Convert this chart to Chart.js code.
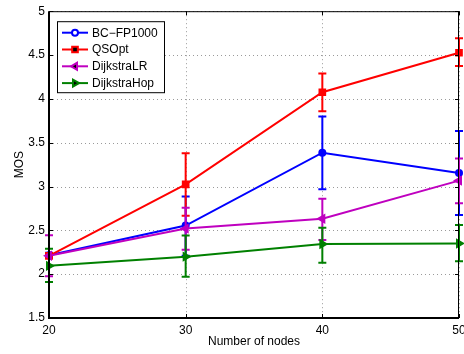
<!DOCTYPE html>
<html>
<head>
<meta charset="utf-8">
<script src="https://cdn.jsdelivr.net/npm/chart.js@4.4.1/dist/chart.umd.min.js"></script>
<style>
  html, body { margin: 0; padding: 0; background: #fff; overflow: hidden; }
  #wrap { width: 464px; height: 354px; overflow: hidden; }
</style>
</head>
<body>
<div id="wrap"><canvas id="c" width="480" height="354"></canvas></div>
<script>
const nodes = [20, 30, 40, 50];
const yTicks = [1.5, 2, 2.5, 3, 3.5, 4, 4.5, 5];
const yTickLabels = ["1.5", "2", "2.5", "3", "3.5", "4", "4.5", "5"];

const bcMos = [2.215, 2.555, 3.386, 3.153];
const bcHigh = [2.245, 2.886, 3.80, 3.634];
const bcLow = [2.185, 2.21, 2.97, 2.675];

const qsMos = [2.21, 3.025, 4.075, 4.526];
const qsHigh = [2.24, 3.38, 4.29, 4.69];
const qsLow = [2.18, 2.667, 3.86, 4.376];

const lrMos = [2.21, 2.52, 2.633, 3.067];
const lrHigh = [2.445, 2.757, 2.86, 3.32];
const lrLow = [1.975, 2.28, 2.39, 2.81];

const hopMos = [2.095, 2.20, 2.344, 2.35];
const hopHigh = [2.29, 2.44, 2.53, 2.56];
const hopLow = [1.91, 1.97, 2.13, 2.147];

const FONT = "'Liberation Sans', Arial, Helvetica, sans-serif";

function series(label, color, mos, high, low, style, rot, radius, order) {
    return {
        label: label,
        data: nodes.map((n, i) => ({ x: n, y: mos[i] })),
        errHigh: high,
        errLow: low,
        borderColor: color,
        backgroundColor: color,
        borderWidth: 2,
        pointStyle: style,
        rotation: rot,
        pointRadius: radius,
        pointBorderWidth: 2,
        pointBackgroundColor: color,
        pointBorderColor: color,
        tension: 0,
        clip: false,
        order: order
    };
}

const datasets = [
    series("BC\u2212FP1000", "#0000ff", bcMos, bcHigh, bcLow, "circle", 0, 3, 3),
    series("QSOpt", "#ff0000", qsMos, qsHigh, qsLow, "rect", 0, 4, 2),
    series("DijkstraLR", "#bf00bf", lrMos, lrHigh, lrLow, "triangle", 270, 4, 1),
    series("DijkstraHop", "#008000", hopMos, hopHigh, hopLow, "triangle", 90, 4, 0)
];

// dotted grid at the scale ticks, under the lines
const dottedGrid = {
    id: "dottedGrid",
    beforeDatasetsDraw(chart) {
        const ctx = chart.ctx;
        const a = chart.chartArea;
        const xs = chart.scales.x, ys = chart.scales.y;
        ctx.save();
        ctx.strokeStyle = "#9a9a9a";
        ctx.lineWidth = 1;
        ctx.setLineDash([1, 3]);
        ctx.beginPath();
        xs.ticks.forEach(t => {
            const px = Math.round(xs.getPixelForValue(t.value)) + 0.5;
            ctx.moveTo(px, a.top); ctx.lineTo(px, a.bottom);
        });
        ys.ticks.forEach(t => {
            const py = Math.round(ys.getPixelForValue(t.value)) + 0.5;
            ctx.moveTo(a.left, py); ctx.lineTo(a.right, py);
        });
        ctx.stroke();
        ctx.restore();
    }
};

// error bars, drawn right after each line so the stacking follows the series
const errorBars = {
    id: "errorBars",
    afterDatasetDraw(chart, args) {
        const ds = chart.data.datasets[args.index];
        const xs = chart.scales.x, ys = chart.scales.y;
        const ctx = chart.ctx;
        ctx.save();
        ctx.strokeStyle = ds.borderColor;
        ctx.lineWidth = 2;
        ds.data.forEach((p, i) => {
            const px = xs.getPixelForValue(p.x);
            const top = ys.getPixelForValue(ds.errHigh[i]);
            const bot = ys.getPixelForValue(ds.errLow[i]);
            ctx.beginPath();
            ctx.moveTo(px, top); ctx.lineTo(px, bot);
            ctx.moveTo(px - 4, top); ctx.lineTo(px + 4, top);
            ctx.moveTo(px - 4, bot); ctx.lineTo(px + 4, bot);
            ctx.stroke();
        });
        ctx.restore();
    }
};

// box, inside ticks and legend
const boxAndLegend = {
    id: "boxAndLegend",
    afterDraw(chart) {
        const ctx = chart.ctx;
        const a = chart.chartArea;
        const xs = chart.scales.x, ys = chart.scales.y;
        ctx.save();
        ctx.strokeStyle = "#000";
        ctx.lineWidth = 1;
        ctx.beginPath();
        ys.ticks.forEach(t => {
            const py = Math.round(ys.getPixelForValue(t.value)) + 0.5;
            ctx.moveTo(a.left, py); ctx.lineTo(a.left + 4, py);
            ctx.moveTo(a.right, py); ctx.lineTo(a.right - 4, py);
        });
        xs.ticks.forEach(t => {
            const px = Math.round(xs.getPixelForValue(t.value)) + 0.5;
            ctx.moveTo(px, a.bottom); ctx.lineTo(px, a.bottom - 4);
            ctx.moveTo(px, a.top); ctx.lineTo(px, a.top + 4);
        });
        ctx.stroke();
        ctx.beginPath();
        ctx.moveTo(a.left, a.top + 0.5); ctx.lineTo(a.right, a.top + 0.5);
        ctx.moveTo(a.right - 0.5, a.top); ctx.lineTo(a.right - 0.5, a.bottom);
        ctx.stroke();
        ctx.lineWidth = 2;
        ctx.beginPath();
        ctx.moveTo(a.left, a.top); ctx.lineTo(a.left, a.bottom);
        ctx.lineTo(a.right, a.bottom);
        ctx.stroke();

        // legend box
        const lx = a.left + 8, ly = a.top + 10, lw = 107, lh = 71;
        ctx.fillStyle = "#fff";
        ctx.fillRect(lx, ly, lw, lh);
        ctx.lineWidth = 1;
        ctx.strokeRect(lx + 0.5, ly + 0.5, lw, lh);
        ctx.font = "12px " + FONT;
        ctx.textBaseline = "middle";
        chart.data.datasets.forEach((ds, i) => {
            const cy = ly + 11.5 + i * 16.8;
            ctx.strokeStyle = ds.borderColor;
            ctx.lineWidth = 2;
            ctx.beginPath();
            ctx.moveTo(lx + 5, cy); ctx.lineTo(lx + 31, cy);
            ctx.stroke();
            Chart.helpers.drawPoint(ctx, {
                pointStyle: ds.pointStyle,
                rotation: ds.rotation,
                radius: ds.pointRadius,
                borderWidth: 1.5
            }, lx + 18, cy);
            ctx.fillStyle = "#000";
            ctx.fillText(ds.label, lx + 35, cy + 0.5);
        });
        ctx.restore();
    }
};

new Chart(document.getElementById("c"), {
    type: "line",
    data: { datasets: datasets },
    options: {
        responsive: false,
        animation: false,
        devicePixelRatio: 1,
        layout: { padding: { top: 8, right: 21, bottom: 0, left: 0 } },
        plugins: {
            legend: { display: false },
            tooltip: { enabled: false }
        },
        scales: {
            x: {
                type: "linear",
                min: 20,
                max: 50,
                afterBuildTicks: s => { s.ticks = nodes.map(v => ({ value: v })); },
                afterFit: s => { s.height = 36; },
                ticks: { color: "#000", font: { family: FONT, size: 12 }, padding: 5, maxRotation: 0 },
                grid: { display: false, drawTicks: false },
                border: { display: false },
                title: { display: true, text: "Number of nodes", color: "#000", font: { family: FONT, size: 12 }, padding: { top: 0, bottom: 5 } }
            },
            y: {
                min: 1.5,
                max: 5,
                afterBuildTicks: s => { s.ticks = yTicks.map(v => ({ value: v })); },
                afterFit: s => { s.width = 49; },
                ticks: {
                    color: "#000",
                    font: { family: FONT, size: 12 },
                    padding: 4,
                    callback: v => yTickLabels[yTicks.indexOf(v)]
                },
                grid: { display: false, drawTicks: false },
                border: { display: false },
                title: { display: true, text: "MOS", color: "#000", font: { family: FONT, size: 12 }, padding: { top: 12, bottom: 0 } }
            }
        }
    },
    plugins: [dottedGrid, errorBars, boxAndLegend]
});
</script>
</body>
</html>
